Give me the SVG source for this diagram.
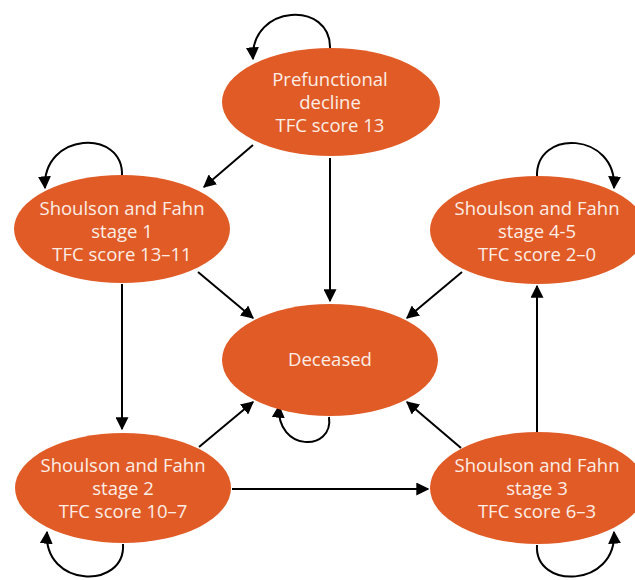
<svg xmlns="http://www.w3.org/2000/svg" width="635" height="580" viewBox="0 0 635 580">
<defs>
<style>
.n{fill:#E15B26;}
.t{fill:#FCEEE6;font-family:"Open Sans","Noto Sans",sans-serif;font-size:18.5px;text-anchor:middle;}
.c{fill:none;stroke:#000;stroke-width:2;marker-end:url(#ah);}
</style>
<marker id="ah" viewBox="0 0 10 10" refX="9" refY="5" markerWidth="6.5" markerHeight="6.5" markerUnits="strokeWidth" orient="auto">
<path d="M0,0 L10,5 L0,10 z" fill="#000"/>
</marker>
</defs>
<rect width="635" height="580" fill="#fff"/>
<g id="connectors">
<path class="c" d="M253,145 L204,187"/>
<path class="c" d="M330,158 L330,301"/>
<path class="c" d="M198,272 L253,318"/>
<path class="c" d="M462,272 L407,318"/>
<path class="c" d="M122,284 L122,429"/>
<path class="c" d="M199,447 L253,402"/>
<path class="c" d="M232,489 L428,489"/>
<path class="c" d="M461,448 L407,402"/>
<path class="c" d="M537,432 L537,286"/>
<path class="c" d="M330,49 C332,0 250,4 253,59"/>
<path class="c" d="M122,176 C124,128 42,132 45,188"/>
<path class="c" d="M537,177 C535,128 617,132 614,188"/>
<path class="c" d="M329,417 C334,452 276,452 279,406"/>
<path class="c" d="M123,544 C126,590 43,588 47,532"/>
<path class="c" d="M537,545 C534,590 617,588 614,532"/>
</g>
<g id="prefunctional">
<ellipse class="n" cx="331" cy="102" rx="109" ry="54"/>
<text class="t" x="330" y="86">Prefunctional</text>
<text class="t" x="330" y="109">decline</text>
<text class="t" x="330" y="132">TFC score 13</text>
</g>
<g id="stage1">
<ellipse class="n" cx="122" cy="229" rx="108" ry="54"/>
<text class="t" x="122" y="215">Shoulson and Fahn</text>
<text class="t" x="122" y="238">stage 1</text>
<text class="t" x="122" y="261">TFC score 13–11</text>
</g>
<g id="stage45">
<ellipse class="n" cx="538" cy="230" rx="108" ry="54"/>
<text class="t" x="537" y="215">Shoulson and Fahn</text>
<text class="t" x="537" y="238">stage 4-5</text>
<text class="t" x="537" y="261">TFC score 2–0</text>
</g>
<g id="deceased">
<ellipse class="n" cx="330" cy="360" rx="108" ry="56"/>
<text class="t" x="330" y="366">Deceased</text>
</g>
<g id="stage2">
<ellipse class="n" cx="123" cy="488" rx="108" ry="55"/>
<text class="t" x="123" y="472">Shoulson and Fahn</text>
<text class="t" x="123" y="495">stage 2</text>
<text class="t" x="123" y="518">TFC score 10–7</text>
</g>
<g id="stage3">
<ellipse class="n" cx="538" cy="488" rx="108" ry="56"/>
<text class="t" x="537" y="472">Shoulson and Fahn</text>
<text class="t" x="537" y="495">stage 3</text>
<text class="t" x="537" y="518">TFC score 6–3</text>
</g>
</svg>
